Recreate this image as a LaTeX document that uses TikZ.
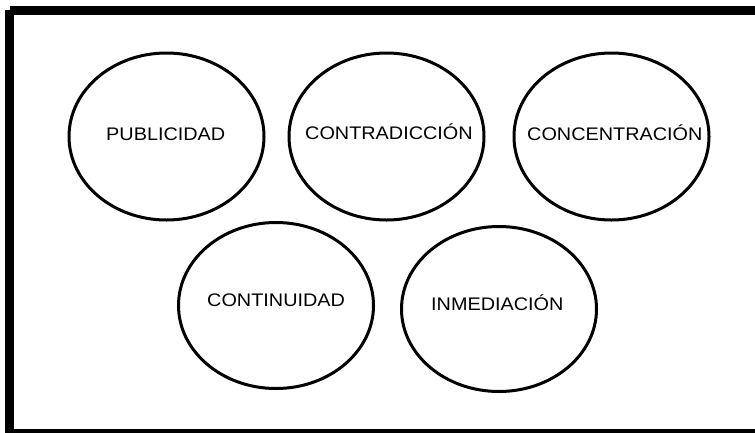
\documentclass[tikz,border=0pt]{standalone}
\usepackage{fontspec}
\setmainfont{Liberation Sans}
\usetikzlibrary{shapes.geometric}
\begin{document}
\begin{tikzpicture}[x=1pt,y=-1pt,
  oval/.style={draw=black,line width=3pt,ellipse,inner sep=0pt,minimum width=195pt,minimum height=167pt},
  lbl/.style={anchor=base west,inner sep=0pt,font=\fontsize{18.2pt}{20pt}\selectfont,xscale=1.09}]
\useasboundingbox (0,0) rectangle (755,432);
\clip (0,0) rectangle (755,432);
\fill[white] (0,0) rectangle (755,432);
\draw[line width=9pt] (9.5,10) -- (770,10) (9.5,10) -- (9.5,433) (9.5,433) -- (770,433);
\node[oval] (e1) at (166.5,136.5) {};
\node[oval] (e2) at (386.5,136.5) {};
\node[oval] (e3) at (611.5,136.5) {};
\node[oval,minimum height=166pt] (e4) at (276,305.5) {};
\node[oval,minimum height=165pt] (e5) at (499,309) {};
\node[lbl] (t1) at (106,140.5) {PUBLICIDAD};
\node[lbl] (t2) at (305,139.5) {CONTRADICCIÓN};
\node[lbl] (t3) at (527,140.5) {CONCENTRACIÓN};
\node[lbl] (t4) at (207,306.5) {CONTINUIDAD};
\node[lbl] (t5) at (431,310.5) {INMEDIACIÓN};
\end{tikzpicture}
\end{document}
